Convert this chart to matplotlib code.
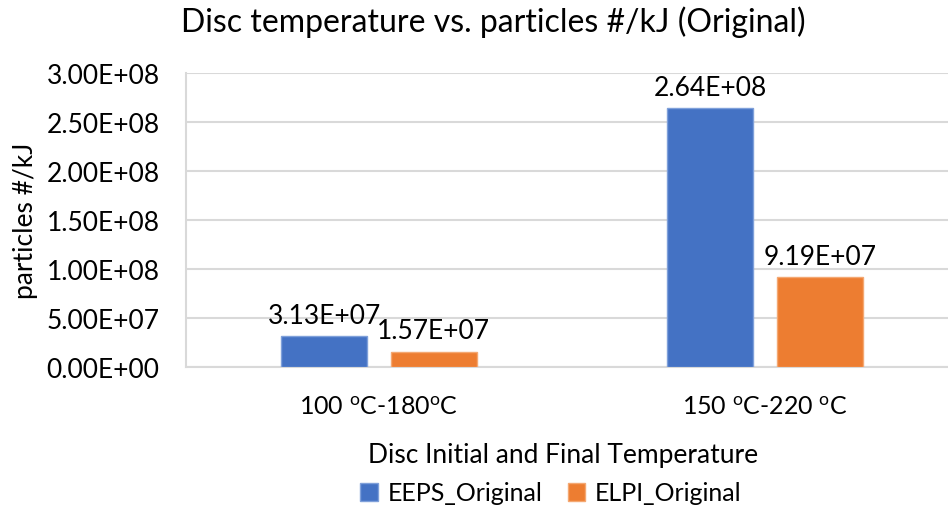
import matplotlib
matplotlib.use("Agg")
import matplotlib.pyplot as plt
import numpy as np

plt.rcParams['font.family'] = ['Lato', 'DejaVu Sans']
plt.rcParams['mathtext.fontset'] = 'custom'
plt.rcParams['mathtext.rm'] = 'Lato'
plt.rcParams['mathtext.it'] = 'Lato'

categories = [r"100 $^{\mathrm{o}}$C-180$^{\mathrm{o}}$C", r"150 $^{\mathrm{o}}$C-220 $^{\mathrm{o}}$C"]
series_names = ["EEPS_Original", "ELPI_Original"]
eeps = [3.13e7, 2.64e8]
elpi = [1.57e7, 9.19e7]
yticks = [0, 5e7, 1e8, 1.5e8, 2e8, 2.5e8, 3e8]
colors = ["#4472C4", "#ED7D31"]
edge_colors = ["#7FA0DA", "#F4A872"]

fig = plt.figure(figsize=(9.48, 5.10), dpi=100)
ax = fig.add_axes([186 / 948, 142 / 510, 772 / 948, 294 / 510])

x = np.arange(len(categories))
width = 0.223
offset = 0.142
for vals, off, c, ec, name in zip([eeps, elpi], [-offset, offset], colors, edge_colors, series_names):
    bars = ax.bar(x + off, vals, width, color=c, edgecolor=ec, linewidth=1, label=name, zorder=3)
    for b, v in zip(bars, vals):
        ax.annotate(f"{v:.2E}", (b.get_x() + b.get_width() / 2, v),
                    xytext=(0, 6), textcoords="offset points",
                    ha="center", va="bottom", fontsize=19, color="black")

ax.set_xlim(-0.5, 1.5)
ax.set_ylim(0, 3e8)
ax.set_yticks(yticks)
ax.set_yticklabels([f"{t:.2E}" for t in yticks], fontsize=19)
ax.set_xticks(x)
ax.set_xticklabels(categories, fontsize=18)
ax.tick_params(axis="both", length=0)
ax.tick_params(axis="x", pad=20)
ax.tick_params(axis="y", pad=19)
ax.yaxis.grid(True, color="#D9D9D9", linewidth=1.5, zorder=0)
for s in ["top", "right"]:
    ax.spines[s].set_visible(False)
ax.spines["left"].set_color("#D9D9D9")
ax.spines["left"].set_linewidth(1.5)
ax.spines["bottom"].set_color("#D9D9D9")
ax.spines["bottom"].set_linewidth(1.5)

ax.set_ylabel("particles #/kJ", fontsize=19, labelpad=6)
fig.text(563 / 948, 1 - 456 / 510, "Disc Initial and Final Temperature", ha="center", va="center", fontsize=19)
fig.text(493 / 948, 1 - 22 / 510, "Disc temperature vs. particles #/kJ (Original)", ha="center", va="center", fontsize=23)

fig.legend(loc="center", bbox_to_anchor=(551 / 948, 1 - 494 / 510), ncol=2, frameon=False,
           fontsize=18, handlelength=0.7, handleheight=0.7, columnspacing=1.0, handletextpad=0.4)

fig.savefig("out.png", dpi=100)
